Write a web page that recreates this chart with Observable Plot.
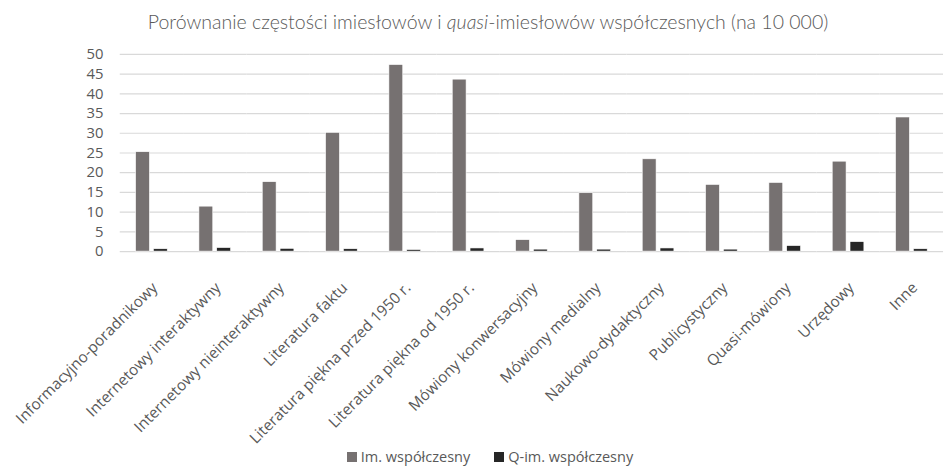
<!DOCTYPE html>
<html>
<head>
<meta charset="utf-8">
<script src="https://cdn.jsdelivr.net/npm/d3@7"></script>
<script src="https://cdn.jsdelivr.net/npm/@observablehq/plot@0.6"></script>
<style>
  body { margin: 0; background: #fff; overflow: hidden; width: 948px; height: 470px; font-family: "Open Sans", sans-serif; color: #595959; }
  #title { box-sizing: border-box; width: 948px; height: 44px; line-height: 44px; padding-left: 28px; text-align: center; font-family: Lato, sans-serif; font-weight: 300; font-size: 19.5px; color: #595959; white-space: nowrap; }
  #chart svg { display: block; }
  #legend { box-sizing: border-box; width: 948px; height: 34px; display: flex; justify-content: center; align-items: center; padding-left: 32px; font-family: "Open Sans", sans-serif; font-size: 14.5px; color: #595959; }
  .item { display: flex; align-items: center; margin: 0 12px; }
  .sw { width: 10px; height: 10px; margin-right: 4px; }
</style>
</head>
<body>
<div id="title">Porównanie częstości imiesłowów i <i>quasi</i>-imiesłowów współczesnych (na 10 000)</div>
<div id="chart"></div>
<div id="legend"></div>
<script>
// Text styles (registers / genres)
const categories = [
  "Informacyjno-poradnikowy",
  "Internetowy interaktywny",
  "Internetowy nieinteraktywny",
  "Literatura faktu",
  "Literatura piękna przed 1950 r.",
  "Literatura piękna od 1950 r.",
  "Mówiony konwersacyjny",
  "Mówiony medialny",
  "Naukowo-dydaktyczny",
  "Publicystyczny",
  "Quasi-mówiony",
  "Urzędowy",
  "Inne"
];
const series = ["Im. współczesny", "Q-im. współczesny"];
// Frequency per 10 000 words
const imWspolczesny  = [25.2, 11.4, 17.6, 30.1, 47.3, 43.6, 2.9, 14.8, 23.4, 16.9, 17.4, 22.8, 34.0];
const qimWspolczesny = [0.6, 0.9, 0.7, 0.6, 0.4, 0.8, 0.5, 0.5, 0.8, 0.5, 1.4, 2.4, 0.6];
const yTicks = [0, 5, 10, 15, 20, 25, 30, 35, 40, 45, 50];
const colors = ["#767171", "#262626"];

const rows = categories.flatMap((c, i) => [
  {category: c, series: series[0], value: imWspolczesny[i]},
  {category: c, series: series[1], value: qimWspolczesny[i]}
]);

const chart = Plot.plot({
  width: 958,
  height: 400,
  marginLeft: 117,
  marginRight: 1,
  marginTop: 10,
  marginBottom: 190.7,
  style: {fontFamily: "'Open Sans', sans-serif", fontSize: "14.5px", color: "#595959", background: "transparent", overflow: "visible"},
  fx: {domain: categories, padding: 0},
  x: {domain: series, paddingInner: 0.22, paddingOuter: 0.85, axis: null},
  y: {domain: [0, 50]},
  color: {domain: series, range: colors},
  marks: [
    Plot.gridY(yTicks, {stroke: "#d9d9d9", strokeOpacity: 1, strokeWidth: 1.2}),
    Plot.axisY(yTicks, {anchor: "left", tickSize: 0, tickPadding: 17, fontSize: 15, label: null}),
    Plot.axisFx({anchor: "bottom", tickSize: 0, tickPadding: 34, dx: 3, tickRotate: -45, fontSize: 15.5, label: null}),
    Plot.barY(rows, {fx: "category", x: "series", y: "value", fill: "series", stroke: "#ffffff", strokeWidth: 0.6})
  ]
});
document.getElementById("chart").appendChild(chart);

const legend = document.getElementById("legend");
series.forEach((s, i) => {
  const item = document.createElement("div");
  item.className = "item";
  const sw = document.createElement("span");
  sw.className = "sw";
  sw.style.background = colors[i];
  const label = document.createElement("span");
  label.textContent = s;
  item.appendChild(sw);
  item.appendChild(label);
  legend.appendChild(item);
});
</script>
</body>
</html>
